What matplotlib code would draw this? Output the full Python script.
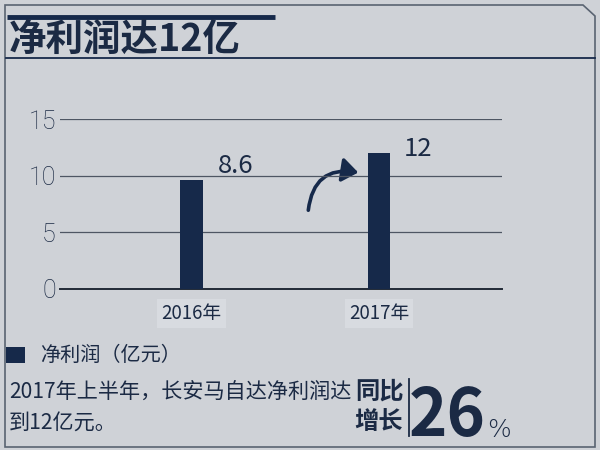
import matplotlib
matplotlib.use("Agg")
import matplotlib.pyplot as plt
from matplotlib.patches import Rectangle, FancyArrowPatch, Polygon
from matplotlib.lines import Line2D

plt.rcParams['font.family'] = ['Noto Sans CJK SC', 'DejaVu Sans']

# ---- data ----
categories = ["2016年", "2017年"]
bar_values = [9.6, 12.0]          # bar heights as drawn
value_labels = ["8.6", "12"]      # labels as printed
yticks = [0, 5, 10, 15]
title = "净利润达12亿"
legend_label = "净利润（亿元）"
body_line1 = "2017年上半年，长安马自达净利润达"
body_line2 = "到12亿元。"
growth_label = ["同比", "增长"]
growth_value = "26"

BG = "#cfd2d7"
NAVY = "#16294a"
TXT = "#1b2a44"

fig = plt.figure(figsize=(6, 4.5), dpi=100, facecolor=BG)

# overlay axes in pixel coordinates for decorations
ov = fig.add_axes([0, 0, 1, 1], zorder=0)
ov.set_xlim(0, 600)
ov.set_ylim(450, 0)
ov.axis("off")
ov.patch.set_alpha(0)

# outer frame with clipped top-right corner
frame = Polygon([(5, 447), (5, 5), (583, 5), (595, 16), (595, 447)], closed=True,
                fill=False, edgecolor="#5a6472", lw=1.2)
ov.add_patch(frame)
# thick bar above title
ov.add_line(Line2D([7, 275], [17, 17], color=NAVY, lw=3.5, solid_capstyle="butt"))
# line under title
ov.add_line(Line2D([6, 595], [57.5, 57.5], color=NAVY, lw=1.3))
# title
ov.text(9, 39, title, fontsize=27, fontweight="bold", color=TXT, va="center", ha="left")

# legend
ov.add_patch(Rectangle((6, 347), 19, 16, facecolor=NAVY, edgecolor="none"))
ov.text(40, 355, legend_label, fontsize=14.5, color=TXT, va="center", ha="left")
# body text
ov.text(9, 392, body_line1, fontsize=15.2, color=TXT, va="center", ha="left")
ov.text(9, 423, body_line2, fontsize=15.2, color=TXT, va="center", ha="left")
# growth
ov.text(379, 392, growth_label[0], fontsize=17.5, fontweight="bold", color=TXT, va="center", ha="center")
ov.text(379, 422, growth_label[1], fontsize=17.5, fontweight="bold", color=TXT, va="center", ha="center")
ov.add_line(Line2D([409, 409], [379, 436], color=TXT, lw=1.3))
ov.text(447, 436, growth_value, fontsize=47, fontweight="bold", color=TXT, va="baseline", ha="center")
ov.text(499, 437, "%", fontsize=18, color=TXT, va="baseline", ha="center",
        family=["DejaVu Sans"], fontweight="light")

# curved arrow
arr = FancyArrowPatch((308, 213), (361, 173), connectionstyle="arc3,rad=-0.55",
                      arrowstyle="-|>,head_length=6,head_width=4.5", color=NAVY, lw=2.6,
                      mutation_scale=1.6)
ov.add_patch(arr)

# main chart axes
ax = fig.add_axes([60 / 600, 161 / 450, 442 / 600, 169.7 / 450], zorder=1)
ax.patch.set_alpha(0)
x = list(range(len(categories)))
ax.bar(x, bar_values, width=0.12, color=NAVY, zorder=3)
ax.set_xlim(-0.70, 1.656)
ax.set_ylim(0, 15)
ax.set_yticks(yticks)
ax.set_yticklabels([str(v) for v in yticks], fontsize=18, color=TXT, fontweight="light",
                   family=["Roboto", "DejaVu Sans"])
ax.set_xticks(x)
ax.set_xticklabels(categories, fontsize=13.5, color=TXT)
for lab in ax.get_xticklabels():
    lab.set_bbox(dict(facecolor="#d8dbe0", edgecolor="none", pad=3))
ax.tick_params(axis="both", length=0)
ax.tick_params(axis="y", pad=3)
ax.tick_params(axis="x", pad=10)
for s in ["top", "right", "left"]:
    ax.spines[s].set_visible(False)
ax.spines["bottom"].set_color("#222a36")
ax.spines["bottom"].set_linewidth(1.4)
for v in yticks[1:]:
    ax.axhline(v, color="#4e5663", lw=0.9, zorder=1)

ax.text(0 + 0.14, 10.9, value_labels[0], fontsize=18.5, color=TXT, ha="left", va="center", clip_on=False)
ax.text(1 + 0.13, 12.4, value_labels[1], fontsize=18.5, color=TXT, ha="left", va="center", clip_on=False)

fig.savefig("out.png", dpi=100, facecolor=BG)
